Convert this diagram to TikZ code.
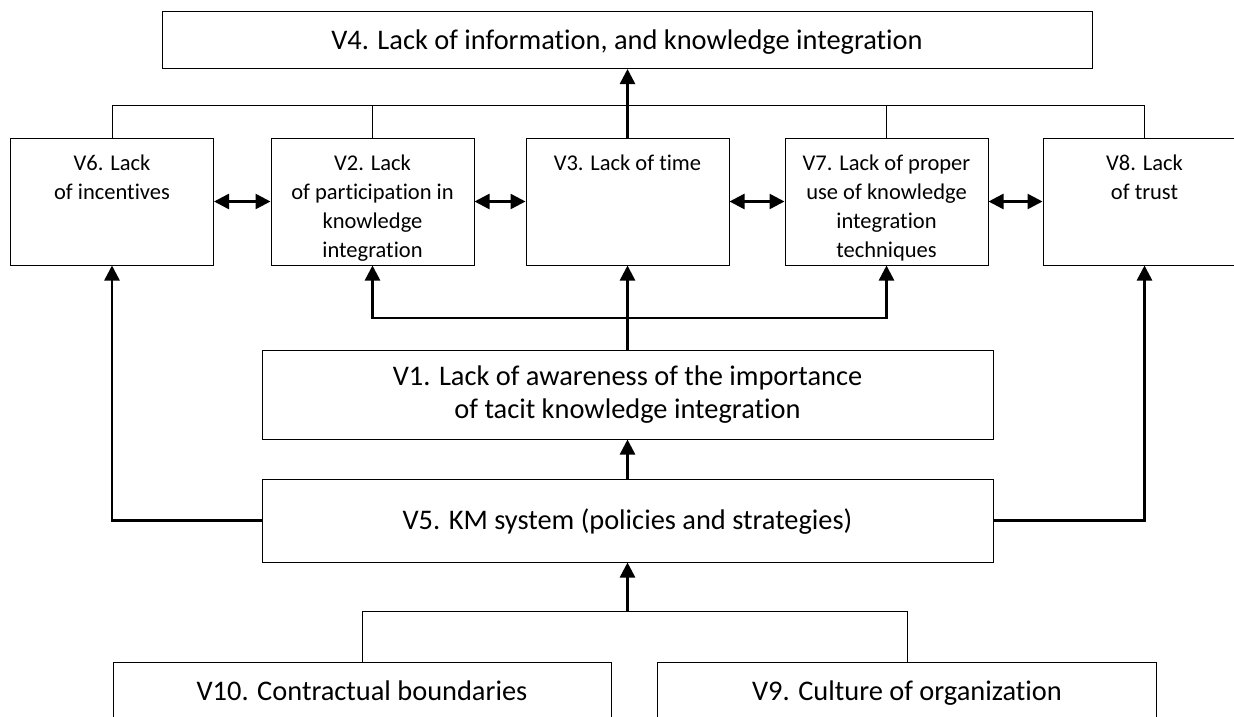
\documentclass[tikz,border=0pt]{standalone}
\usepackage{fontspec}
\setmainfont{Carlito}[Ligatures={NoCommon}]
\usetikzlibrary{arrows.meta}
\newcommand\rowtxt[1]{\parbox[c][127pt][t]{200pt}{\centering\fontsize{22.5}{29}\selectfont\rule{0pt}{32pt}#1}}
\begin{document}
\begin{tikzpicture}[x=1pt,y=-1pt,
  box/.style={draw=black, line width=1pt, inner sep=0pt, fill=white, align=center},
  conn/.style={line width=1pt},
  arr/.style={line width=2.5pt, -{Triangle[length=15pt,width=15pt]}},
  dbl/.style={line width=2.5pt, {Triangle[length=15pt,width=15pt]}-{Triangle[length=15pt,width=15pt]}},
  rowbox/.style={box, minimum width=203pt, minimum height=127pt},
  bigfont/.style={font=\fontsize{28.4}{33}\selectfont},
  big/.style={bigfont, text height=21.5pt, text depth=3.5pt}
]
\path[use as bounding box] (0,0) rectangle (1234,717);
\clip (0,0) rectangle (1234,717);

% top box
\node[box, big, minimum width=930pt, minimum height=57pt] (v4) at (627,40) {V4. Lack of information, and knowledge integration};

% row of boxes
\node[rowbox] (v6) at (112,201.5) {\rowtxt{V6. Lack\\of incentives}};
\node[rowbox] (v2) at (372.5,201.5) {\rowtxt{V2. Lack\\of participation in\\knowledge\\integration}};
\node[rowbox] (v3) at (627.5,201.5) {\rowtxt{V3. Lack of time}};
\node[rowbox] (v7) at (886.5,201.5) {\rowtxt{V7. Lack of proper\\use of knowledge\\integration\\techniques}};
\node[rowbox] (v8) at (1144.5,201.5) {\rowtxt{V8. Lack\\of trust}};

% middle boxes
\node[box, bigfont, minimum width=731pt, minimum height=89pt] (v1) at (627.5,394.5) {V1. Lack of awareness of the importance\\of tacit knowledge integration};
\node[box, big, minimum width=731pt, minimum height=83pt] (v5) at (627.5,520.5) {V5. KM system (policies and strategies)};

% bottom boxes
\node[box, big, minimum width=498pt, minimum height=58pt] (v10) at (362,691) {V10. Contractual boundaries};
\node[box, big, minimum width=499pt, minimum height=58pt] (v9) at (907,691) {V9. Culture of organization};

% thin top connector
\coordinate (tl) at (627,105);
\draw[conn] (v6.north) -- (v6.north |- tl) -- (v8.north |- tl) -- (v8.north);
\draw[conn] (v2.north) -- (v2.north |- tl);
\draw[conn] (v7.north) -- (v7.north |- tl);
\draw[arr] (v3.north) -- (v3.north |- v4.south);

% double arrows in the row
\draw[dbl] (v6.east) -- (v2.west);
\draw[dbl] (v2.east) -- (v3.west);
\draw[dbl] (v3.east) -- (v7.west);
\draw[dbl] (v7.east) -- (v8.west);

% V1 to row
\coordinate (br) at (627.5,318);
\draw[dbl, line join=miter] (v2.south) |- (br) -| (v7.south);
\draw[arr] (v1.north) -- (v3.south);

% V5 connections
\draw[arr] (v5.north) -- (v1.south);
\draw[arr, line join=miter] (v5.west) -| (v6.south);
\draw[arr, line join=miter] (v5.east) -| (v8.south);

% bottom connector
\coordinate (bb) at (627.5,611);
\draw[conn] (v10.north) -- (v10.north |- bb) -- (v9.north |- bb) -- (v9.north);
\draw[arr] (bb) -- (v5.south);
\end{tikzpicture}
\end{document}
